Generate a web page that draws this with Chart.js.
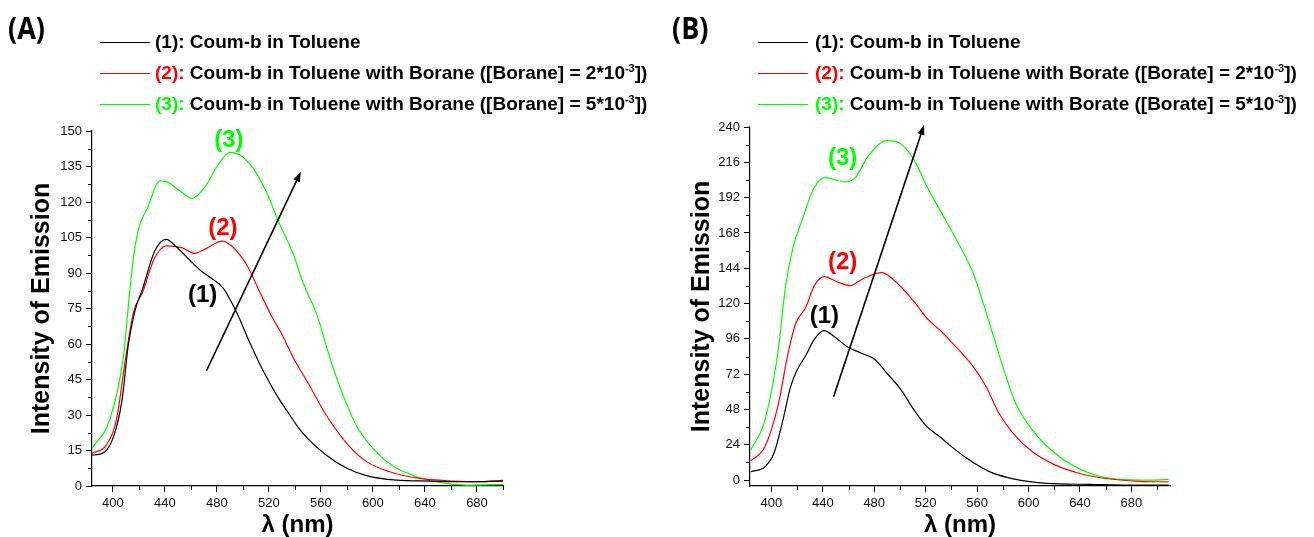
<!DOCTYPE html>
<html>
<head>
<meta charset="utf-8">
<script src="https://cdn.jsdelivr.net/npm/chart.js@4.4.0/dist/chart.umd.min.js"></script>
<style>
  body { margin: 0; background: #fff; }
  #page { position: relative; width: 1314px; height: 537px; overflow: hidden; font-family: "Liberation Sans", Arial, sans-serif; }
  canvas { position: absolute; top: 0; }
  .tag { position: absolute; top: 7px; font: 700 30px "Open Sans", sans-serif; color: #000; transform: scaleX(0.9); transform-origin: left top; }
  .swatch { position: absolute; width: 50px; height: 1px; }
  .row { position: absolute; white-space: nowrap; font-weight: bold; font-size: 19px; line-height: 20px; color: #000; }
  .row sup { font-size: 11px; vertical-align: 7px; line-height: 0; }
</style>
</head>
<body>
<div id="page">
  <canvas id="chartA" width="657" height="537" style="left:0"></canvas>
  <canvas id="chartB" width="657" height="537" style="left:657px"></canvas>
  <div class="tag" style="left:8px">(A)</div>
  <div class="tag" style="left:672px">(B)</div>
  <div id="legendA"></div>
  <div id="legendB"></div>
</div>
<script>
// Wavelength (nm) / intensity pairs
const seriesA1 = [[384,13.1],[392,13.8],[400,20],[407,36],[412,60],[417,74],[423,83.5],[432,99],[441,104.2],[449,101],[459,95.5],[467,91.3],[476,87.7],[485,83.5],[495,73.6],[505,61],[516,48.3],[526,38.4],[536,30],[546,22.3],[564,13.1],[580,7.5],[595,4.4],[618,2.5],[644,2.1],[670,1.8],[700,2.1]];
const seriesA2 = [[384,13.8],[395,17.3],[403,28.6],[409,51],[416,73.6],[423,82],[432,96.2],[441,101.5],[453,100.7],[463,98.3],[472,100.4],[484,103.5],[492,101.1],[503,93.4],[513,82],[523,70.8],[529,65.2],[539,54],[551,42.7],[564,30],[581,17.3],[595,10.3],[613,6],[636,3.2],[662,2.1],[682,1.8],[700,2.4]];
const seriesA3 = [[384,15.9],[398,28.6],[408,54],[413,82],[416,97],[420,109],[427,118],[436,128.9],[441,128.6],[451,125],[461,121.5],[471,126.5],[480,134.9],[490,141],[498,139.8],[508,134.2],[518,124.3],[528,111],[539,97.6],[546,86.3],[557,72.2],[567,54],[577,38.4],[587,25.8],[600,15.9],[616,8.2],[634,3.9],[651,1.5],[672,0.4],[700,0.7]];

const seriesB1 = [[384,5.7],[395,9],[402,18.2],[409,40.8],[415,63.5],[420,74.8],[427,85],[433,95.2],[441,101.6],[449,97.5],[459,90.7],[470,86.2],[480,82.3],[490,72.6],[501,61.2],[511,47.6],[521,36.3],[531,29.5],[537,25],[552,14.8],[570,5.6],[590,0.5],[614,-2.2],[647,-2.9],[686,-3.4],[709,-3.4]];
const seriesB2 = [[384,13.1],[395,22.7],[405,49.9],[413,86.2],[419,106.6],[427,117.9],[433,131.5],[441,138.3],[452,134.5],[461,132.2],[472,137.2],[486,141],[498,133.8],[511,121.3],[521,110],[531,102],[541,93],[557,77.1],[567,63.5],[577,45.4],[588,31.8],[603,19.3],[621,10.2],[640,4.5],[660,1.1],[686,-0.8],[709,-1.2]];
const seriesB3 = [[384,20.4],[395,40.8],[405,86.2],[411,131.5],[417,158.7],[424,176.9],[433,198.4],[442,205.6],[457,202.7],[465,205.2],[475,219.9],[490,230.8],[499,229.5],[511,217.7],[521,199.5],[531,183.7],[544,163.3],[557,140.6],[564,122.4],[572,99.8],[580,77.1],[590,52.2],[603,34],[619,19.3],[634,10.2],[652,3.4],[676,0.3],[696,0],[709,0.5]];

const xTicks = [400, 440, 480, 520, 560, 600, 640, 680];
const yTicksA = [0, 15, 30, 45, 60, 75, 90, 105, 120, 135, 150];
const yTicksB = [0, 24, 48, 72, 96, 120, 144, 168, 192, 216, 240];

const seriesColors = ['#000000', '#ff0000', '#00ff00'];
const seriesTags = ['(1)', '(2)', '(3)'];
const legendA = ['Coum-b in Toluene',
  'Coum-b in Toluene with Borane ([Borane] = 2*10<sup>-3</sup>])',
  'Coum-b in Toluene with Borane ([Borane] = 5*10<sup>-3</sup>])'];
const legendB = ['Coum-b in Toluene',
  'Coum-b in Toluene with Borate ([Borate] = 2*10<sup>-3</sup>])',
  'Coum-b in Toluene with Borate ([Borate] = 5*10<sup>-3</sup>])'];

Chart.defaults.font.family = '"Liberation Sans", Arial, sans-serif';

// Build the legend block as plain html (it has superscripts)
function buildLegend(id, texts, lineLeft, textLeft) {
  const rowsY = [42, 73, 104];
  const box = document.getElementById(id);
  texts.forEach((t, i) => {
    const sw = document.createElement('div');
    sw.className = 'swatch';
    sw.style.left = lineLeft + 'px';
    sw.style.top = rowsY[i] + 'px';
    sw.style.background = seriesColors[i];
    box.appendChild(sw);
    const row = document.createElement('div');
    row.className = 'row';
    row.style.left = textLeft + 'px';
    row.style.top = (rowsY[i] - 10) + 'px';
    const tagColor = i === 0 ? '#000' : seriesColors[i];
    row.innerHTML = '<span style="color:' + tagColor + '">' + seriesTags[i] + ':</span> ' + t;
    box.appendChild(row);
  });
}

// Minor ticks, the arrow and the (1)(2)(3) tags
const extras = {
  id: 'extras',
  afterDraw(chart, args, opts) {
    const { ctx, chartArea } = chart;
    const x = chart.scales.x, y = chart.scales.y;
    ctx.save();
    ctx.strokeStyle = '#000';
    ctx.lineWidth = 1;
    ctx.beginPath();
    opts.xMinor.forEach(v => {
      const px = Math.round(x.getPixelForValue(v)) + 0.5;
      ctx.moveTo(px, chartArea.bottom);
      ctx.lineTo(px, chartArea.bottom + 4);
    });
    opts.yMinor.forEach(v => {
      const py = Math.round(y.getPixelForValue(v)) + 0.5;
      ctx.moveTo(chartArea.left, py);
      ctx.lineTo(chartArea.left - 4, py);
    });
    ctx.stroke();

    // arrow
    const x0 = x.getPixelForValue(opts.arrow[0]), y0 = y.getPixelForValue(opts.arrow[1]);
    const x1 = x.getPixelForValue(opts.arrow[2]), y1 = y.getPixelForValue(opts.arrow[3]);
    const ang = Math.atan2(y1 - y0, x1 - x0);
    ctx.lineWidth = 1.6;
    ctx.beginPath();
    ctx.moveTo(x0, y0);
    ctx.lineTo(x1 - 6 * Math.cos(ang), y1 - 6 * Math.sin(ang));
    ctx.stroke();
    ctx.fillStyle = '#000';
    ctx.beginPath();
    ctx.moveTo(x1, y1);
    ctx.lineTo(x1 - 10 * Math.cos(ang) + 3.5 * Math.sin(ang), y1 - 10 * Math.sin(ang) - 3.5 * Math.cos(ang));
    ctx.lineTo(x1 - 10 * Math.cos(ang) - 3.5 * Math.sin(ang), y1 - 10 * Math.sin(ang) + 3.5 * Math.cos(ang));
    ctx.closePath();
    ctx.fill();

    // tags
    ctx.font = 'bold 24px "Liberation Sans", Arial, sans-serif';
    ctx.textAlign = 'center';
    ctx.textBaseline = 'middle';
    opts.tags.forEach((p, i) => {
      ctx.fillStyle = seriesColors[i];
      ctx.fillText(seriesTags[i], x.getPixelForValue(p[0]), y.getPixelForValue(p[1]));
    });
    ctx.restore();
  }
};

function makeChart(id, cfg) {
  const ctx = document.getElementById(id).getContext('2d');
  return new Chart(ctx, {
    type: 'line',
    data: {
      datasets: cfg.series.map((s, i) => ({
        data: s.map(p => ({ x: p[0], y: p[1] })),
        borderColor: seriesColors[i],
        borderWidth: 1.2,
        pointRadius: 0,
        fill: false,
        cubicInterpolationMode: 'monotone'
      }))
    },
    options: {
      responsive: false,
      animation: false,
      devicePixelRatio: 1,
      layout: { padding: { top: cfg.area.top, right: 657 - cfg.area.right, bottom: 0, left: 0 } },
      plugins: {
        legend: { display: false },
        tooltip: { enabled: false },
        extras: cfg.extras
      },
      scales: {
        x: {
          type: 'linear',
          min: cfg.xMin,
          max: cfg.xMax,
          afterBuildTicks: s => { s.ticks = xTicks.map(v => ({ value: v })); },
          afterFit: s => { s.height = 537 - cfg.area.bottom; },
          grid: { drawOnChartArea: false, tickLength: 6, tickColor: '#000' },
          border: { color: '#000', width: 1.2 },
          ticks: { color: '#111', font: { size: 13 }, padding: 4, maxRotation: 0 },
          title: { display: true, text: 'λ (nm)', color: '#000', font: { size: 24, weight: 'bold', lineHeight: 1 }, padding: { top: 0, bottom: 0 } }
        },
        y: {
          type: 'linear',
          min: cfg.yMin,
          max: cfg.yMax,
          afterBuildTicks: s => { s.ticks = cfg.yTicks.map(v => ({ value: v })); },
          afterFit: s => { s.width = cfg.area.left; },
          grid: { drawOnChartArea: false, tickLength: 6, tickColor: '#000' },
          border: { color: '#000', width: 1.2 },
          ticks: { color: '#111', font: { size: 13 }, padding: 4 },
          title: { display: true, text: 'Intensity of Emission', color: '#000', font: { size: 25, weight: 'bold', lineHeight: 1 }, padding: { top: cfg.titlePad, bottom: 0 } }
        }
      }
    },
    plugins: [extras]
  });
}

document.addEventListener('DOMContentLoaded', () => {
  buildLegend('legendA', legendA, 100, 155);
  buildLegend('legendB', legendB, 758, 815);

  makeChart('chartA', {
    series: [seriesA1, seriesA2, seriesA3],
    area: { left: 92, top: 131, right: 503, bottom: 486 },
    xMin: 384, xMax: 700, yMin: 0, yMax: 150,
    yTicks: yTicksA,
    titlePad: 30,
    extras: {
      xMinor: [420, 460, 500, 540, 580, 620, 660, 700],
      yMinor: [7.5, 22.5, 37.5, 52.5, 67.5, 82.5, 97.5, 112.5, 127.5, 142.5],
      arrow: [472, 48.7, 544.6, 132.8],
      tags: [[469, 80.6], [484.6, 109], [489.2, 146.2]]
    }
  });

  makeChart('chartB', {
    series: [seriesB1, seriesB2, seriesB3],
    area: { left: 93, top: 127, right: 513, bottom: 486 },
    xMin: 383.4, xMax: 710, yMin: -4, yMax: 240,
    yTicks: yTicksB,
    titlePad: 33,
    extras: {
      xMinor: [420, 460, 500, 540, 580, 620, 660, 700],
      yMinor: [12, 36, 60, 84, 108, 132, 156, 180, 204, 228],
      arrow: [448.4, 56.7, 518.8, 241.5],
      tags: [[441.2, 111.2], [455.4, 148], [455.4, 219]]
    }
  });
});
</script>
</body>
</html>
